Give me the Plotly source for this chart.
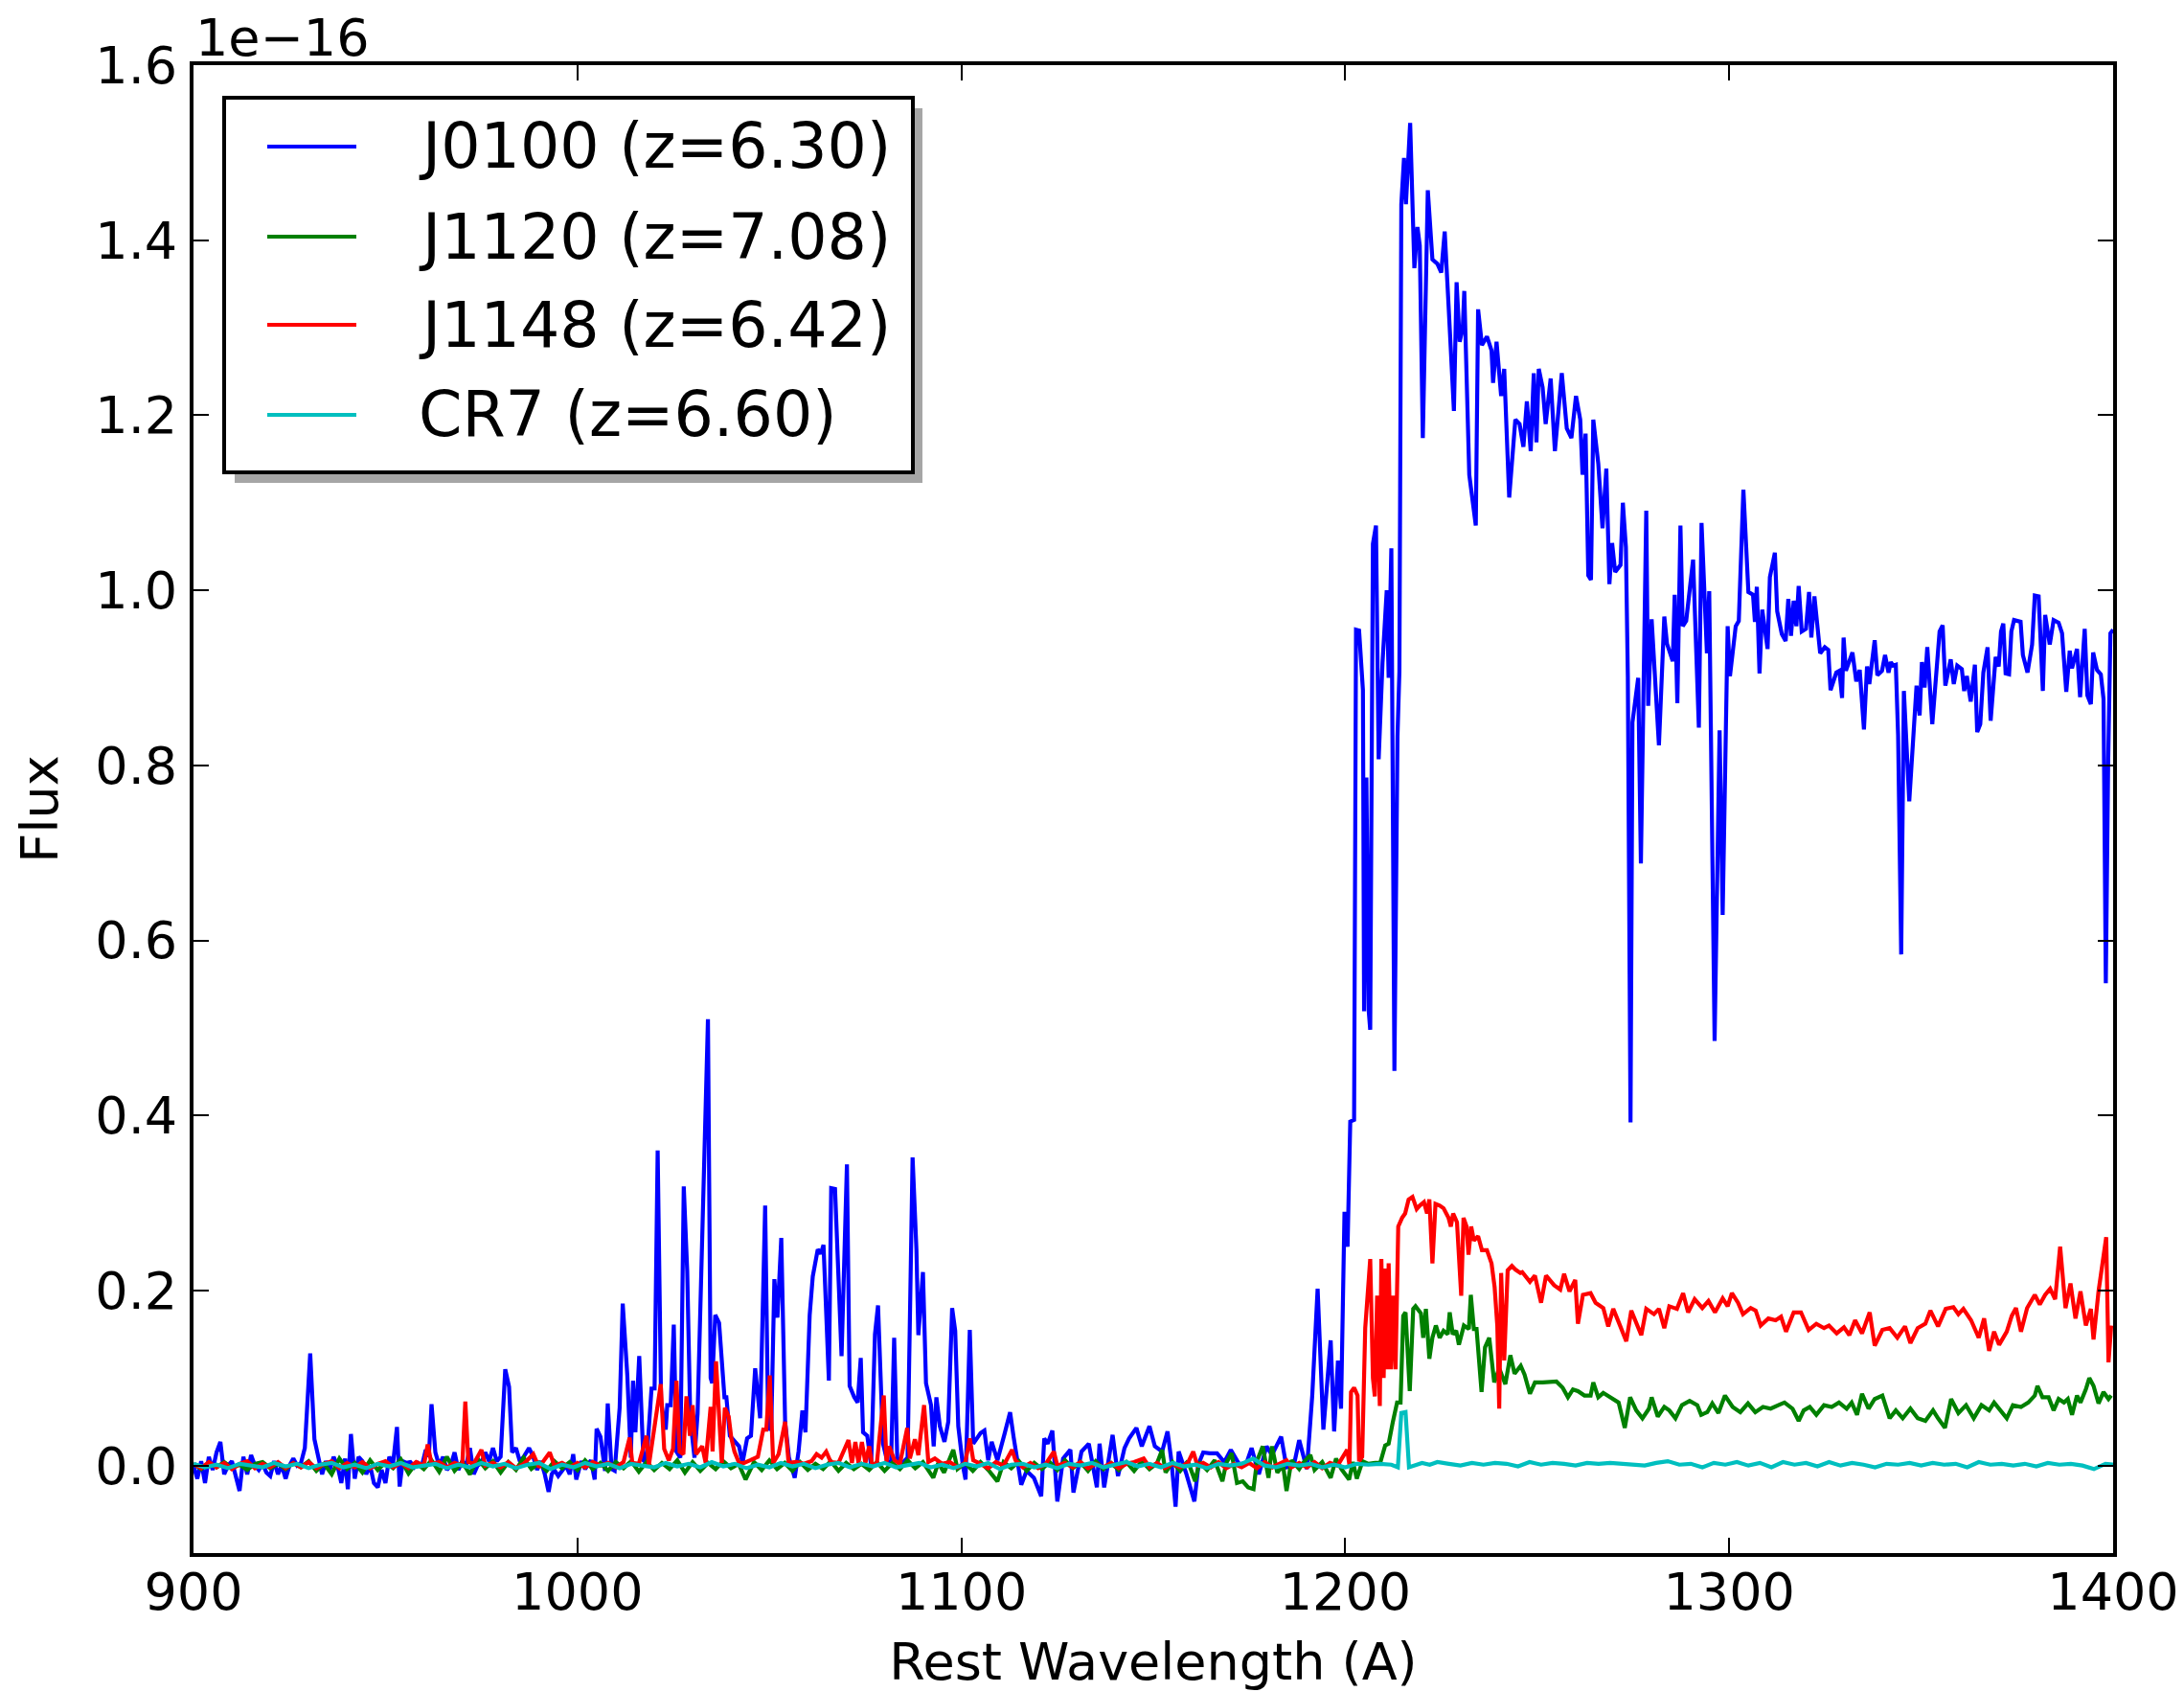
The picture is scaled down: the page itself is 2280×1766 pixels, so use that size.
import plotly.graph_objects as go

# ---------------- data (flux in units of 1e-16) ----------------
series_names = ["J0100 (z=6.30)", "J1120 (z=7.08)", "J1148 (z=6.42)", "CR7 (z=6.60)"]
series_colors = ["#0000ff", "#008000", "#ff0000", "#00bfbf"]

J0100 = [
(900,0.0),(901,-0.015),(902,0.005),(903,-0.02),(904,0.01),(905,-0.005),(906,0.015),(907,0.027),(908,-0.01),(909,0.0),
(910,0.005),(911,-0.01),(912,-0.029),(913,0.01),(914,-0.01),(915,0.012),(916,0.0),(917,-0.005),(918,0.002),(919,-0.008),
(920,-0.012),(921,0.005),(922,-0.01),(923,0.0),(924,-0.015),(925,0.0),(926,0.008),(927,0.0),(928,0.003),(929,0.02),
(930.4,0.128),(931.5,0.03),(932.5,0.01),(933.5,-0.01),(934.5,0.005),(935.5,-0.005),(936.5,0.01),(937.5,0.0),(938.5,-0.02),(939.5,0.008),
(940.2,-0.027),(941,0.036),(942,-0.015),(943,0.01),(944,0.005),(945,-0.01),(946,0.0),(947,-0.02),(948,-0.025),(949,-0.005),
(950,-0.02),(951,0.01),(952,0.003),(953,0.044),(953.7,-0.024),(954.5,0.005),(955.5,0.003),(956.5,0.004),(957.5,-0.002),(958.5,0.003),
(959.5,0.0),(960.5,0.018),(961.3,0.01),(962,0.07),(963,0.015),(964,0.0),(965,0.01),(966,-0.005),(967,0.0),(968,0.015),
(969,-0.005),(970,0.005),(971,0.0),(972,0.02),(973,-0.01),(974,0.0),(975,0.003),(976,0.015),(977,0.005),(978,0.02),
(979,0.005),(980,0.01),(981.2,0.11),(982.2,0.09),(983,0.015),(984,0.02),(985,0.005),(986,0.01),(987.4,0.02),(988.5,0.01),
(989.5,-0.005),(990.5,0.005),(991.5,-0.01),(992.5,-0.03),(993.3,-0.01),(994,-0.005),(995,-0.012),(996,-0.005),(997,0.0),(998,-0.01),
(998.9,0.013),(999.7,-0.016),
(1001,0.005),(1002,-0.004),(1003.5,0.006),(1004.5,-0.016),(1005,0.042),(1006,0.033),(1007.2,-0.006),(1007.9,0.071),(1008.9,-0.004),(1009.7,-0.006),
(1011,0.066),(1011.8,0.185),(1013,0.103),(1013.9,0.009),(1014.5,0.097),(1015.1,0.038),(1016.1,0.125),(1017.2,0.006),(1018,0.003),(1019.3,0.088),
(1020.1,0.088),(1020.9,0.36),(1021.8,0.072),(1023,0.041),(1023.4,0.069),(1024.3,0.069),(1025.1,0.161),(1025.8,0.016),(1026.8,0.009),(1027.7,0.319),
(1028.6,0.222),(1029.4,0.053),(1030.5,0.009),(1031.3,0.059),(1034,0.51),(1034.7,0.1),(1035.1,0.094),(1035.9,0.172),(1036.9,0.163),(1038.3,0.078),
(1038.8,0.078),(1039.7,0.034),(1040.9,0.028),(1042.1,0.022),(1043,0.003),(1044.2,0.031),(1045.2,0.034),(1046.3,0.111),(1047.6,0.054),(1048.9,0.297),
(1049.7,0.041),(1050.5,0.044),(1051.3,0.213),(1052.1,0.169),(1053.1,0.26),(1054.1,0.05),(1055.1,0.009),(1056.6,-0.014),(1057.6,0.016),(1058.6,0.063),
(1059.4,0.038),(1060.5,0.172),(1061.3,0.216),(1062.6,0.247),(1063.4,0.242),(1064.1,0.252),(1065.5,0.097),(1066.1,0.317),(1067.1,0.316),(1068.8,0.125),
(1070.2,0.344),(1070.9,0.091),
(1072.1,0.078),(1073,0.072),(1073.8,0.123),(1074.4,0.038),(1075.5,0.034),(1076.5,0.0),(1077.5,0.15),(1078.3,0.183),(1079.6,0.025),(1080.8,0.003),
(1081.7,0.003),(1082.5,0.146),(1083.3,0.009),(1084.6,0.003),(1086,0.009),(1087.3,0.352),(1088.3,0.247),(1088.8,0.149),(1090,0.221),(1090.8,0.094),
(1092.1,0.069),(1092.8,0.022),(1093.5,0.078),(1094.4,0.045),(1095.6,0.027),(1096.6,0.05),(1097.6,0.18),(1098.4,0.154),(1099.2,0.045),(1100.4,0.0),
(1101.1,-0.016),(1102.2,0.155),(1103.1,0.025),
(1105,0.037),(1106,0.04),(1107,0.006),(1107.9,0.027),(1109.4,0.006),(1111.3,0.037),(1112.7,0.061),(1113.6,0.033),(1115.6,-0.022),(1117,-0.006),
(1118.9,-0.014),(1120.8,-0.035),(1121.6,0.031),(1122.5,0.025),(1123.7,0.04),(1125,-0.041),(1126.5,0.008),(1128.4,0.018),(1129.2,-0.031),(1131.3,0.016),
(1133.2,0.025),(1135.3,-0.025),(1136,0.025),(1137.2,-0.025),(1139.4,0.035),(1140.8,-0.012),(1142.5,0.02),(1143.7,0.031),(1145.6,0.043),(1147,0.022),
(1149,0.045),(1150.4,0.022),(1152.3,0.016),(1153.7,0.039),(1154.7,0.006),(1155.8,-0.047),(1156.6,0.016),(1158.5,-0.008),(1160.7,-0.041),(1161.8,0.002),
(1163,0.015),(1164.7,0.014),(1166.6,0.014),(1168.5,0.004),(1170.2,0.018),(1172.3,0.002),(1174.2,0.002),(1175.6,0.02),(1177.5,-0.01),(1179.5,0.022),
(1180.9,0.012),(1183.3,0.033),(1184.7,-0.002),(1186.6,0.0),(1188,0.029),(1190,-0.004),(1191.4,0.08),(1192.8,0.202),(1194.3,0.041),(1196.2,0.143),
(1197.1,0.039),(1198.1,0.12),(1198.9,0.065),(1199.8,0.29),(1200.6,0.25),(1201.3,0.393),(1202.3,0.395),
(1202.8,0.955),(1203.6,0.954),(1204.6,0.886),(1204.9,0.519),(1205.5,0.786),(1206.1,0.52),(1206.5,0.498),(1207.2,1.053),(1208,1.074),(1208.7,0.807),
(1209.7,0.917),(1210.8,1.0),(1211.3,0.9),(1212,1.048),(1212.8,0.451),(1213.6,0.833),(1214.1,0.907),(1214.6,1.441),(1215.3,1.494),(1215.8,1.441),
(1216.9,1.534),(1218,1.368),(1218.8,1.415),(1219.4,1.394),(1220.2,1.174),(1221.5,1.457),(1222.7,1.378),(1224,1.373),(1225,1.363),(1225.9,1.41),
(1226.9,1.326),(1228.3,1.205),(1229,1.352),(1229.8,1.284),(1230.6,1.3),(1231,1.342),(1232.3,1.132),(1234,1.074),(1234.6,1.321),(1235.6,1.28),
(1236.9,1.29),(1238.1,1.274),(1238.5,1.237),(1239.4,1.284),(1240.6,1.222),(1241.4,1.253),(1242.7,1.106),(1244.3,1.195),(1245.4,1.19),(1246.4,1.164),
(1247.3,1.216),(1248.3,1.159),(1249.1,1.248),(1249.8,1.169),(1250.4,1.253),(1251.4,1.232),(1252.2,1.19),(1253.5,1.242),(1254.6,1.159),(1256.4,1.248),
(1257.7,1.185),(1258.9,1.174),(1260.1,1.222),(1261.2,1.195),(1261.8,1.132),(1262.6,1.179),(1263.3,1.017),
(1264,1.012),(1264.6,1.195),(1265.9,1.145),(1267,1.071),(1268,1.139),(1268.8,1.007),(1269.5,1.054),(1270.3,1.021),(1271.7,1.029),(1272.3,1.1),
(1273.1,1.049),(1273.6,0.902),(1274.3,0.392),(1274.8,0.849),(1276.3,0.9),(1277,0.688),(1278.4,1.091),(1278.9,0.868),(1279.8,0.967),(1281.7,0.823),
(1283.1,0.97),(1283.8,0.939),(1285.3,0.919),(1285.8,0.995),(1286.5,0.871),(1287.3,1.074),(1287.9,0.959),(1288.8,0.965),(1290.6,1.035),(1292.1,0.843),
(1292.8,1.077),(1294.2,0.928),(1294.8,0.999),(1296.2,0.485),(1297.5,0.84),(1298.3,0.629),(1299.6,0.959),(1300.2,0.902),(1301.7,0.959),(1302.5,0.965),
(1303.7,1.115),(1305,0.998),(1306.2,0.995),(1306.7,0.964),(1307.2,1.004),(1307.9,0.905),(1308.6,0.978),(1310,0.933),(1310.6,1.015),(1311.9,1.043),
(1312.5,0.976),(1313.7,0.95),(1314.7,0.942),(1315.4,0.99),(1316.1,0.948),(1316.8,0.988),(1317.5,0.959),(1318.1,1.005),(1318.9,0.953),(1320,0.956),
(1320.8,0.998),(1321.4,0.946),(1322.2,0.993),(1323.7,0.928),(1324.9,0.935),(1325.8,0.932),(1326.4,0.886),(1327.9,0.906),(1328.7,0.908),(1329.4,0.877),
(1329.8,0.946),(1330.4,0.908),(1332.1,0.929),(1333.1,0.896),
(1334,0.909),(1335.1,0.841),(1335.9,0.913),(1336.5,0.893),(1337.9,0.943),(1338.6,0.903),(1339.8,0.908),(1340.6,0.926),(1341.5,0.906),(1342.1,0.918),
(1342.7,0.914),(1343.4,0.915),(1344,0.834),(1344.8,0.584),(1345.5,0.885),(1346.9,0.759),(1347.9,0.838),(1348.8,0.891),(1349.6,0.857),(1350.2,0.918),
(1350.9,0.889),(1351.6,0.935),(1352.9,0.847),(1354.8,0.953),(1355.6,0.96),(1356.3,0.891),(1357.7,0.921),(1358.5,0.893),(1359.4,0.914),(1360.6,0.91),
(1361.2,0.885),(1361.9,0.902),(1362.9,0.873),(1364,0.915),(1364.6,0.838),(1365.4,0.847),(1366.2,0.906),(1367.3,0.935),(1368.1,0.851),(1369.4,0.924),
(1370.2,0.913),(1370.8,0.953),(1371.4,0.962),(1372,0.905),(1372.9,0.904),(1373.5,0.953),(1374.2,0.966),(1375.2,0.965),(1375.9,0.964),(1376.5,0.926),
(1377.7,0.906),(1378.9,0.938),(1379.6,0.994),(1380.6,0.993),(1381.7,0.885),(1382.3,0.972),(1383.5,0.938),(1384.5,0.966),(1385.8,0.963),(1386.7,0.951),
(1387.8,0.884),(1388.7,0.931),(1389.3,0.911),(1390.6,0.933),(1391.4,0.878),(1392.6,0.956),(1393.3,0.88),(1394.2,0.87),(1394.8,0.929),(1395.8,0.909),
(1396.8,0.904),(1397.5,0.876),(1398.1,0.551),(1398.7,0.8),(1399.3,0.951),(1400,0.955),
]

J1120 = [
(900,0.002),(902,-0.004),(904,0.003),(906,-0.002),(908,0.004),(910,-0.003),(912,0.001),(914,-0.005),(916,0.002),(918,0.004),
(920,-0.003),(922,0.002),(924,-0.004),(926,0.003),(928,-0.002),(930,0.005),(932,-0.006),(934,0.002),(936,-0.01),(938,0.008),
(940,-0.004),(942,0.003),(944,-0.008),(946,0.006),(948,-0.005),(950,0.004),(952,-0.003),(954,0.007),(956,-0.009),(958,0.003),
(960,-0.004),(962,0.006),(964,-0.007),(966,0.01),(968,-0.006),(970,0.004),(972,-0.01),(974,0.008),(976,-0.003),(978,0.005),
(980,-0.008),(982,0.004),(984,-0.005),(986,0.009),(988,-0.004),(990,0.003),(992,-0.006),(994,0.005),(996,-0.003),(998,0.004),
(1000,-0.005),(1002,0.006),(1004,-0.004),(1006,0.003),(1008,-0.006),(1010,0.004),(1012,-0.003),(1014,0.005),(1016,-0.007),(1018,0.004),
(1020,-0.005),(1022,0.003),(1024,-0.004),(1026,0.006),(1028,-0.008),(1030,0.004),(1032,-0.006),(1034,0.003),(1036,-0.004),(1038,0.005),
(1040,-0.003),(1042,0.002),(1043.8,-0.016),(1046,0.004),(1048,-0.005),(1050,0.006),(1052,-0.004),(1054,0.003),(1056,-0.006),(1058,0.004),
(1060,-0.005),(1062,0.002),(1064,-0.004),(1066,0.005),(1068,-0.006),(1070,0.003),(1072,-0.004),(1074,0.002),(1076,-0.005),(1078,0.004),
(1080,-0.006),(1082,0.003),(1084,-0.004),(1086,0.006),(1088,-0.003),(1090,0.004),(1092.7,-0.014),(1094,0.003),(1095.5,-0.008),(1097.9,0.018),
(1099,-0.004),(1101,0.003),(1103,-0.006),(1105,0.004),(1107,-0.005),(1109.4,-0.018),(1111,0.004),(1113,-0.003),(1115,0.005),(1117,-0.006),
(1119,0.003),(1121,-0.004),(1123,0.004),(1125,-0.005),(1127,0.006),(1129,-0.003),(1131,0.004),(1133,-0.006),(1135,0.005),(1137,-0.004),
(1139,0.003),(1141,-0.005),(1143,0.004),(1145,-0.006),(1147,0.005),(1149,-0.004),(1151,0.003),(1152.3,0.018),(1153.2,-0.008),(1155,0.004),
(1157,-0.006),(1159,0.005),(1160.9,-0.018),(1162,0.004),(1164,-0.005),(1166,0.006),(1168,-0.018),(1169,0.003),(1170.4,0.014),(1171.8,-0.02),
(1173.3,-0.018),(1174.7,-0.025),(1176.1,-0.027),(1177,0.005),(1178.5,0.022),(1180,-0.014),(1180.9,0.022),(1182.3,-0.008),(1183.8,0.0),(1184.7,-0.029),
(1186,0.006),(1188,-0.004),(1189,0.003),(1190.9,0.012),(1192,-0.005),(1194,0.004),(1196.2,-0.014),(1197.6,0.008),(1199,-0.004),(1201,-0.016),
(1202,0.004),(1203,-0.015),(1204.5,0.005),(1206,0.002),(1207.8,0.003),(1209.1,0.003),(1210.4,0.023),(1211.3,0.025),(1212.4,0.05),(1213.5,0.072),
(1214.4,0.072),(1215.1,0.171),(1215.7,0.175),(1216.8,0.085),
(1217.7,0.179),(1218.3,0.182),(1219.7,0.174),(1220.3,0.146),(1221,0.179),(1221.9,0.122),(1222.7,0.146),(1223.6,0.16),(1224.6,0.146),(1225.6,0.154),
(1226.7,0.15),(1227.2,0.175),(1228,0.15),(1228.9,0.154),(1229.6,0.138),(1230.9,0.16),(1232.2,0.156),(1232.7,0.195),(1233.5,0.156),(1234.2,0.156),
(1235.5,0.084),(1236.4,0.135),(1237.5,0.146),(1238.8,0.095),(1240.1,0.111),(1241.7,0.093),(1243,0.126),(1244.1,0.105),(1245.7,0.114),(1246.7,0.104),
(1248.1,0.082),(1249.4,0.095),(1251.4,0.095),(1253.1,0.096),(1255,0.096),(1256.6,0.089),(1258,0.078),(1259.3,0.087),(1260.6,0.085),(1262.3,0.08),
(1263.9,0.08),(1264.6,0.095),(1265.9,0.078),(1267.2,0.083),(1269.2,0.078),(1271.2,0.072),(1272.8,0.043),(1274.2,0.078),(1275.8,0.063),(1277.4,0.054),
(1279.1,0.065),(1279.8,0.078),(1281.4,0.056),(1283.1,0.067),(1284.4,0.063),(1286,0.054),(1287.7,0.069),(1289.7,0.074),(1291.7,0.069),(1292.7,0.058),
(1294.3,0.061),(1295.6,0.071),(1297.2,0.06),(1298.9,0.08),(1300.9,0.067),(1302.9,0.061),(1304.9,0.071),(1306.8,0.061),(1308.8,0.067),(1310.8,0.065),
(1312.8,0.069),(1314.4,0.072),(1316.5,0.065),(1318.1,0.051),(1319.4,0.063),(1321,0.067),(1322.7,0.058),(1324.7,0.069),(1326.7,0.067),(1328.6,0.072),
(1330.6,0.065),(1331.9,0.072),(1333.3,0.058),(1334.6,0.082),(1336.3,0.065),(1337.9,0.076),(1339.9,0.08),(1341.8,0.054),(1343.4,0.063),(1345.2,0.054),
(1347.2,0.065),(1349.1,0.054),(1351.1,0.051),(1353.1,0.063),(1354.4,0.054),(1356.2,0.043),(1357.8,0.076),(1359.7,0.06),(1361.7,0.069),(1363.7,0.054),
(1365.7,0.069),(1367.7,0.063),(1369,0.072),(1371,0.061),(1372.3,0.054),(1373.9,0.069),(1376,0.067),(1377.9,0.072),(1379.6,0.08),(1380.3,0.091),
(1381.6,0.078),(1383.2,0.078),(1384.5,0.063),(1385.8,0.076),(1387.2,0.072),(1388.2,0.076),(1389.3,0.058),(1390.6,0.08),(1391.5,0.072),(1392.9,0.087),
(1393.8,0.1),(1394.9,0.091),(1396.2,0.071),(1397.5,0.084),(1398.8,0.076),(1399.5,0.08),
]

J1148 = [
(900,0.002),(902,-0.003),(904,0.004),(906,-0.002),(908,0.003),(910,-0.004),(912,0.002),(914,0.005),(916,-0.003),(918,0.002),
(920,-0.002),(922,0.004),(924,-0.003),(926,0.003),(928,-0.002),(930,0.004),(932,-0.003),(934,0.002),(936,0.005),(938,-0.003),
(940,0.003),(942,-0.002),(944,0.004),(946,-0.003),(948,0.002),(950,0.005),(952,-0.002),(954,0.003),(956,-0.003),(958,0.004),
(960,0.0),(961,0.024),(962,0.002),(964,0.004),(966,-0.002),(968,0.003),(970,0.0),(970.8,0.073),(971.6,0.004),(973,0.002),
(975,0.018),(976,0.0),(978,0.003),(980,-0.002),(982,0.004),(984,-0.003),(986,0.002),(988.5,0.013),(990,-0.002),(992.8,0.015),
(994,0.0),(996,0.003),(998,-0.002),(1000,0.003),(1002,-0.002),(1004,0.004),(1006,0.0),(1008,0.003),(1010,-0.002),(1012,0.004),
(1013.6,0.032),(1014.3,0.003),(1016,0.002),(1018,0.034),(1018.6,0.0),(1020.1,0.044),(1021.7,0.093),(1022.6,0.019),(1023.8,0.006),(1024.9,0.019),
(1025.8,0.097),(1026.6,0.016),(1027.6,0.013),(1028.4,0.079),(1029.3,0.034),(1030,0.069),(1030.9,0.013),(1032.5,0.022),(1033.4,0.003),(1034.7,0.067),
(1035.2,0.016),(1036.1,0.119),(1036.8,0.072),(1037.6,0.003),(1038.4,0.066),(1039.4,0.056),(1040.1,0.031),(1040.9,0.016),(1042.1,0.003),(1043.4,0.003),
(1045,0.006),(1047,0.01),(1048.4,0.041),(1049.2,0.041),(1050.1,0.103),(1051,0.003),(1052.4,0.013),(1054.1,0.05),(1055,0.003),(1057,0.004),
(1059,0.002),(1061,0.005),(1062.3,0.013),(1063.6,0.009),(1064.8,0.016),(1066,0.004),(1068,0.003),(1069.8,0.022),(1070.6,0.029),(1071.5,0.003),
(1072.4,0.027),(1073.2,0.003),(1074.1,0.027),(1075,0.003),(1076,0.022),(1076.8,0.0),(1078,0.003),(1079.8,0.08),(1080.5,0.004),(1081.2,0.022),
(1082.6,0.006),(1084,0.002),(1085.9,0.043),(1086.6,0.008),(1087.9,0.03),(1088.8,0.012),(1090.3,0.069),(1091.4,0.004),(1093.1,0.008),(1095,0.002),
(1097,0.004),(1099,-0.002),(1101,0.003),(1102.2,0.031),(1103.1,0.006),(1105,0.002),(1107,-0.003),(1109,0.004),(1111,0.0),(1113.2,0.018),
(1114.1,0.006),(1116,-0.002),(1118,0.003),(1120,-0.003),(1122,0.002),(1124.1,0.016),(1125,0.0),(1127,0.003),(1129,-0.002),(1131,0.004),
(1133,-0.003),(1135,0.002),(1137,-0.002),(1139,0.003),(1141,-0.003),(1143,0.002),(1145,0.004),(1147.5,0.008),(1149,-0.002),(1151,0.003),
(1153,-0.003),(1155,0.002),(1157,-0.002),(1159,0.003),(1160.4,0.016),(1161.5,0.0),(1163,0.003),(1165,-0.002),(1167,0.004),(1169,-0.003),
(1171,0.002),(1173,-0.002),(1175,0.003),(1177,-0.003),(1179,0.004),(1181,-0.002),(1183,0.003),(1184.7,0.006),(1186,-0.002),(1188,0.003),
(1190,-0.002),(1192,0.004),(1194,-0.003),(1196,0.003),(1198,0.0),(1200.5,0.018),(1201.1,0.0),(1201.5,0.084),(1202.3,0.089),(1203.2,0.08),
(1203.6,0.005),(1204.4,0.01),(1205.2,0.157),(1206.5,0.236),(1207.2,0.1),(1207.7,0.079),(1208.3,0.194),(1209,0.068),(1209.4,0.236),(1210,0.1),
(1210.5,0.225),(1210.9,0.11),(1211.3,0.231),(1211.9,0.11),(1212.5,0.194),(1213.1,0.11),(1213.8,0.273),(1214.8,0.283),(1215.6,0.288),(1216.5,0.304),
(1217.5,0.307),(1218.6,0.293),(1219.4,0.297),(1220.5,0.301),(1221.3,0.288),(1221.9,0.304),(1222.7,0.231),(1223.5,0.299),(1224.6,0.297),(1225.6,0.294),
(1226.9,0.283),(1227.5,0.273),(1228.1,0.288),(1229.1,0.278),(1230.2,0.194),(1230.8,0.283),(1231.6,0.273),(1232.1,0.241),(1232.8,0.273),(1233.5,0.257),
(1234.6,0.262),(1235.6,0.246),(1236.9,0.246),(1238.1,0.231),(1238.9,0.204),(1239.6,0.16),(1240.1,0.065),(1240.6,0.22),(1241.4,0.12),(1242.3,0.223),
(1243.4,0.228),(1244.3,0.224),(1245.6,0.22),(1246.1,0.221),(1248.1,0.21),(1249.4,0.217),(1251,0.186),(1252.3,0.217),(1254.4,0.206),(1256,0.201),
(1257,0.219),(1258.4,0.199),(1259.9,0.212),(1260.6,0.162),(1261.9,0.195),(1263.9,0.197),(1265.2,0.186),(1267.2,0.18),(1268.5,0.159),(1269.8,0.179),
(1271.2,0.164),(1273.2,0.142),(1274.5,0.177),(1275.8,0.164),(1277.1,0.149),(1278.4,0.179),(1280.4,0.173),(1281.7,0.179),(1283.1,0.157),(1284.4,0.182),
(1286.4,0.179),(1288,0.197),(1289.3,0.175),(1291,0.19),(1293,0.18),(1294.6,0.188),(1296.3,0.175),(1298.3,0.191),(1299.6,0.182),(1300.7,0.197),
(1302.3,0.186),(1303.6,0.173),(1305.6,0.18),(1306.9,0.177),(1308.2,0.16),(1310.2,0.168),(1312.1,0.166),(1313.5,0.17),(1314.8,0.153),(1316.8,0.175),
(1318.7,0.175),(1320.7,0.155),(1322.7,0.162),(1324.7,0.157),(1326,0.16),(1328,0.151),(1329.9,0.158),(1331.3,0.149),(1332.8,0.166),(1334.6,0.151),
(1336.6,0.175),(1337.9,0.137),(1339.9,0.155),(1341.8,0.157),(1343.8,0.146),(1345.8,0.159),(1347.2,0.14),(1349.1,0.157),(1351.1,0.162),(1352.4,0.177),
(1354.4,0.159),(1356.4,0.179),(1358.4,0.181),(1359.7,0.173),(1361,0.179),(1363,0.166),(1365,0.146),(1366.4,0.168),(1367.7,0.131),(1369,0.153),
(1370.3,0.138),(1372.3,0.153),(1373.6,0.171),(1374.7,0.18),(1376,0.153),(1377.6,0.18),(1379.6,0.195),(1380.9,0.184),(1382.3,0.195),(1383.6,0.202),
(1384.9,0.19),(1386.2,0.25),(1387.6,0.18),(1388.9,0.208),(1390.2,0.168),(1391.5,0.199),(1392.9,0.16),(1394.2,0.179),(1394.9,0.144),(1396.2,0.199),
(1397.5,0.243),(1398.2,0.261),(1398.8,0.118),(1399.5,0.16),
]

CR7 = [
(900,0.002),(903,-0.002),(906,0.001),(909,-0.003),(912,0.002),(915,0.0),(918,-0.002),(921,0.003),(924,-0.001),(927,0.002),
(930,-0.003),(933,0.001),(936,0.003),(939,-0.002),(942,0.001),(945,-0.003),(948,0.002),(951,-0.001),(954,0.003),(957,-0.002),
(960,0.0),(963,0.002),(966,-0.003),(969,0.001),(972,-0.002),(975,0.003),(978,-0.001),(981,0.002),(984,-0.003),(987,0.001),
(990,0.003),(993,-0.004),(996,0.001),(999,-0.002),(1002,0.003),(1005,-0.001),(1008,0.002),(1011,-0.003),(1014,0.002),(1017,0.0),
(1020,-0.002),(1023,0.003),(1026,-0.001),(1029,0.002),(1032,-0.002),(1035,0.004),(1038,-0.001),(1041,0.002),(1044,-0.003),(1047,0.001),
(1050,-0.002),(1053,0.003),(1056,-0.001),(1059,0.002),(1062,-0.003),(1065,0.001),(1068,0.003),(1071,-0.002),(1074,0.002),(1077,-0.001),
(1080,0.003),(1083,-0.002),(1086,0.001),(1089,0.003),(1092,-0.002),(1095,0.001),(1098,-0.003),(1101,0.002),(1104,-0.001),(1107,0.003),
(1110,-0.004),(1113,0.001),(1116,0.002),(1119,-0.002),(1122,0.001),(1125,-0.003),(1128,0.002),(1131,0.0),(1134,0.003),(1137,-0.002),
(1140,0.001),(1143,0.004),(1146,-0.001),(1149,0.002),(1152,-0.002),(1155,0.003),(1158,-0.001),(1161,0.001),(1164,-0.003),(1167,0.002),
(1170,0.0),(1173,0.002),(1176,0.008),(1179,0.0),(1182,-0.002),(1185,0.002),(1188,0.0),(1191,0.002),(1194,-0.002),(1197,0.001),
(1200,-0.002),(1203,0.002),(1206,0.001),(1209,0.002),(1212,0.001),(1213.7,-0.002),(1214.6,0.06),(1215.7,0.061),(1216.6,-0.002),(1218,0.0),
(1220,0.003),(1222,0.001),(1224,0.004),(1227,0.002),(1230,0.0),(1233,0.003),(1236,0.001),(1239,0.003),(1242,0.002),(1245,-0.001),
(1248,0.004),(1251,0.001),(1254,0.003),(1257,0.002),(1260,0.0),(1263,0.003),(1266,0.002),(1269,0.003),(1272,0.002),(1275,0.002),
(1278,0.0),(1281,0.003),(1284,0.005),(1287,0.001),(1290,0.002),(1293,-0.002),(1296,0.003),(1299,0.001),(1302,0.004),(1305,0.0),
(1308,0.003),(1311,-0.002),(1314,0.004),(1317,0.001),(1320,0.003),(1323,-0.001),(1326,0.004),(1329,0.0),(1332,0.003),(1335,0.001),
(1338,-0.002),(1341,0.002),(1344,0.001),(1347,0.003),(1350,0.0),(1353,0.003),(1356,0.001),(1359,0.002),(1362,-0.002),(1365,0.004),
(1368,0.001),(1371,0.002),(1374,0.0),(1377,0.002),(1380,-0.001),(1383,0.003),(1386,0.001),(1389,0.002),(1392,0.0),(1395,-0.004),
(1398,0.002),(1400,0.001),
]

x_ticks = [900, 1000, 1100, 1200, 1300, 1400]
y_ticks = [0.0, 0.2, 0.4, 0.6, 0.8, 1.0, 1.2, 1.4, 1.6]
y_ticktext = ["0.0", "0.2", "0.4", "0.6", "0.8", "1.0", "1.2", "1.4", "1.6"]
x_range = [900, 1400]
y_range = [-0.1, 1.6]
x_title = "Rest Wavelength (A)"
y_title = "Flux"
y_scale_label = "1e\u221216"

# ---------------- figure ----------------
FONT = "DejaVu Sans"
all_series = [J0100, J1120, J1148, CR7]

fig = go.Figure()
for name, color, data in zip(series_names, series_colors, all_series):
    wave = [p[0] for p in data]
    flux = [p[1] for p in data]
    fig.add_trace(go.Scatter(x=wave, y=flux, mode="lines", name=name,
                             line=dict(color=color, width=4.2), showlegend=False))

W, H = 2280, 1766
L, R, T, B = 202, 74, 68, 145
pw, ph = W - L - R, H - T - B

def px(xp):
    return (xp - L) / pw

def py(yp):
    return (H - B - yp) / ph

shapes = []
# legend shadow and box
shapes.append(dict(type="rect", xref="paper", yref="paper",
                   x0=px(245), x1=px(963), y0=py(504), y1=py(113),
                   fillcolor="#a6a6a6", line=dict(width=0), layer="above"))
shapes.append(dict(type="rect", xref="paper", yref="paper",
                   x0=px(234), x1=px(953), y0=py(493), y1=py(102),
                   fillcolor="white", line=dict(color="black", width=4), layer="above"))
annotations = []
row_y = [153, 247, 339, 433]
for name, color, ry in zip(series_names, series_colors, row_y):
    shapes.append(dict(type="line", xref="paper", yref="paper",
                       x0=px(279), x1=px(372), y0=py(ry), y1=py(ry),
                       line=dict(color=color, width=4), layer="above"))
    annotations.append(dict(xref="paper", yref="paper", x=px(435), y=py(ry),
                            xanchor="left", yanchor="middle", text=name, showarrow=False,
                            font=dict(family=FONT, size=65, color="black")))

annotations.append(dict(xref="paper", yref="paper", x=0, y=1, xanchor="left", yanchor="middle",
                        yshift=29, text=y_scale_label, showarrow=False,
                        font=dict(family=FONT, size=54, color="black")))

axis_common = dict(showline=True, linewidth=4, linecolor="black", mirror="allticks",
                   ticks="inside", ticklen=16, tickwidth=2, tickcolor="black",
                   showgrid=False, zeroline=False,
                   tickfont=dict(family=FONT, size=54, color="black"))

fig.update_layout(
    width=W, height=H,
    margin=dict(l=L, r=R, t=T, b=B, autoexpand=False),
    paper_bgcolor="white", plot_bgcolor="white",
    font=dict(family=FONT, color="black"),
    xaxis=dict(range=x_range, tickmode="array", tickvals=x_ticks,
               title=dict(text=x_title, font=dict(family=FONT, size=54), standoff=54),
               ticklabelstandoff=-10, **axis_common),
    yaxis=dict(range=y_range, tickmode="array", tickvals=y_ticks, ticktext=y_ticktext,
               title=dict(text=y_title, font=dict(family=FONT, size=54), standoff=22),
               ticklabelstandoff=2, **axis_common),
    shapes=shapes, annotations=annotations,
)

fig.write_html("out.html")
